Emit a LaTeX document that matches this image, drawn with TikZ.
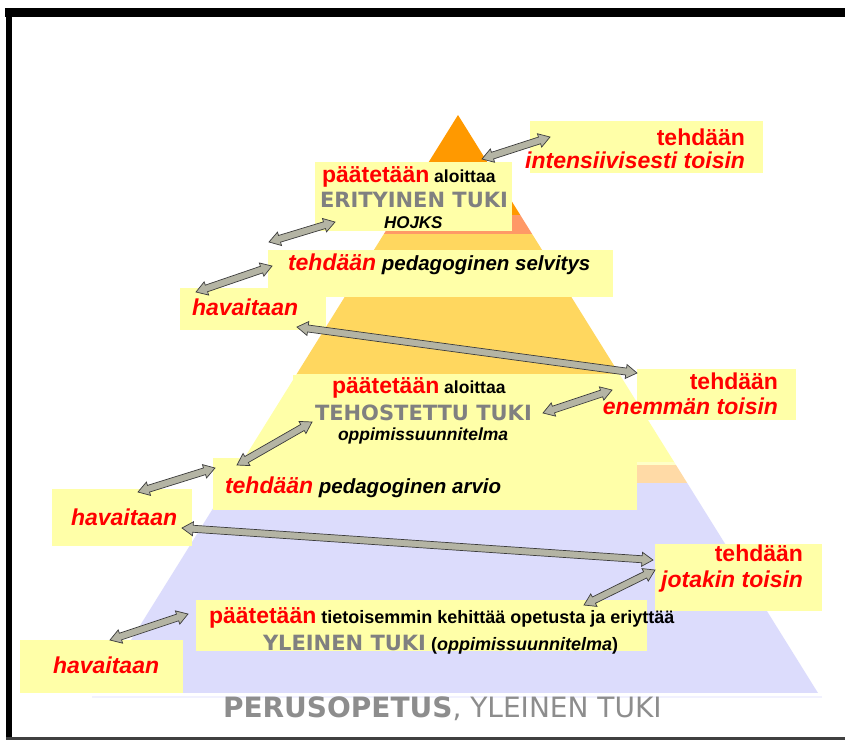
\documentclass[tikz,border=0pt]{standalone}
\usepackage{fontspec}
\setmainfont{Liberation Sans}
\newfontfamily\capsfont{DejaVu Sans}
\usetikzlibrary{calc}
\definecolor{boxyel}{HTML}{FFFFA8}
\definecolor{toporange}{HTML}{FF9900}
\definecolor{salmon}{HTML}{FF9966}
\definecolor{gold}{HTML}{FFD75F}
\definecolor{paleyel}{HTML}{FFFFC8}
\definecolor{peach}{HTML}{FFDAA6}
\definecolor{lavender}{HTML}{DCDCFC}
\definecolor{tukigray}{HTML}{808080}
\definecolor{arrowfill}{HTML}{B4B4A4}
\definecolor{arrowline}{HTML}{3C3C3C}
\definecolor{hotred}{HTML}{FF0000}

\newcommand\fs[1]{\fontsize{#1}{#1}\selectfont}

\tikzset{
  box/.style={fill=boxyel,inner sep=0pt,outer sep=0pt,anchor=north west},
  txt/.style={inner sep=0pt,outer sep=0pt,font=\bfseries},
  redtxt/.style={txt,text=hotred,font=\bfseries\fs{23}},
  redit/.style={txt,text=hotred,font=\bfseries\itshape\fs{23}},
  smalltxt/.style={txt,font=\bfseries\fs{17.5}},
  smallit/.style={txt,font=\bfseries\itshape\fs{17.5}},
  midit/.style={txt,font=\bfseries\itshape\fs{20.5}},
  tuki/.style={txt,text=tukigray,font=\capsfont\bfseries\fs{21}},
  arrowbody/.style={draw=arrowline,fill=arrowfill,line width=0.7pt,line join=miter}
}

% two-headed block arrow between two points
\newcommand\twoway[2]{%
  \coordinate (twA) at (#1);
  \coordinate (twB) at (#2);
  \draw[arrowbody] (twA)
    -- ($(twA)!11pt!(twB)!7pt!90:(twB)$)
    -- ($(twA)!11pt!(twB)!3.5pt!90:(twB)$)
    -- ($(twB)!11pt!(twA)!3.5pt!-90:(twA)$)
    -- ($(twB)!11pt!(twA)!7pt!-90:(twA)$)
    -- (twB)
    -- ($(twB)!11pt!(twA)!7pt!90:(twA)$)
    -- ($(twB)!11pt!(twA)!3.5pt!90:(twA)$)
    -- ($(twA)!11pt!(twB)!3.5pt!-90:(twB)$)
    -- ($(twA)!11pt!(twB)!7pt!-90:(twB)$)
    -- cycle;}

\begin{document}
\begin{tikzpicture}[x=1pt,y=-1pt]
  % canvas and frame
  \useasboundingbox (0,0) rectangle (845,740);
  \fill[white] (0,0) rectangle (845,740);
  \fill[black] (5,8) rectangle (845,17);
  \fill[black] (6,8) rectangle (12,740);
  \fill[black!75] (6,737) rectangle (845,740);

  % pyramid layers
  \begin{scope}
    \clip (458,115) -- (818,693) -- (98,693) -- cycle;
    \fill[toporange] (90,110) rectangle (830,215);
    \fill[salmon] (90,215) rectangle (830,234);
    \fill[gold] (90,234) rectangle (830,374);
    \fill[boxyel] (90,374) rectangle (830,462);
    \fill[paleyel] (90,462) rectangle (830,465);
    \fill[peach] (90,465) rectangle (830,483);
    \fill[lavender] (90,483) rectangle (830,693);
  \end{scope}
  \draw[lavender!40,line width=1.5pt] (92,697) -- (822,697);

  % yellow boxes
  \node[box,minimum width=233pt,minimum height=52pt] (b1) at (530,121) {};
  \node[box,minimum width=197pt,minimum height=69pt] (b2) at (315,162) {};
  \node[box,minimum width=146pt,minimum height=42pt] (b4) at (180,288) {};
  \node[box,minimum width=345pt,minimum height=47pt] (b3) at (268,250) {};
  \node[box,minimum width=267pt,minimum height=70pt] (b5) at (293,375) {};
  \node[box,minimum width=159pt,minimum height=51pt] (b6) at (637,369) {};
  \node[box,minimum width=424pt,minimum height=52pt] (b7) at (213,458) {};
  \node[box,minimum width=140pt,minimum height=57pt] (b8) at (52,489) {};
  \node[box,minimum width=167pt,minimum height=67pt] (b9) at (655,544) {};
  \node[box,minimum width=451pt,minimum height=51pt] (b10) at (196,600) {};
  \node[box,minimum width=163pt,minimum height=53pt] (b11) at (20,640) {};

  % erityinen tuki
  \node[redtxt,anchor=base east] (t1a) at (745,145) {tehdään};
  \node[redit,anchor=base east] (t1b) at (745,168) {intensiivisesti toisin};
  \node[smalltxt,anchor=base west] (t2a) at (322,182) {{\color{hotred}\fs{23}päätetään} aloittaa};
  \node[tuki,anchor=base west] (t2b) at (320,207) {ERITYINEN TUKI};
  \node[txt,font=\bfseries\itshape\fs{17},anchor=base west] (t2c) at (384,228) {HOJKS};
  \node[midit,anchor=base west] (t3) at (288,270) {{\color{hotred}\fs{23}tehdään} pedagoginen selvitys};
  \node[redit,anchor=base west] (t4) at (192,315) {havaitaan};

  % tehostettu tuki
  \node[smalltxt,anchor=base west] (t5a) at (332,393) {{\color{hotred}\fs{23}päätetään} aloittaa};
  \node[tuki,anchor=base west] (t5b) at (315,420) {TEHOSTETTU TUKI};
  \node[smallit,anchor=base west] (t5c) at (338,440) {oppimissuunnitelma};
  \node[redtxt,anchor=base east] (t6a) at (778,389) {tehdään};
  \node[redit,anchor=base east] (t6b) at (778,414) {enemmän toisin};
  \node[midit,anchor=base west] (t7) at (225,493) {{\color{hotred}\fs{23}tehdään} pedagoginen arvio};
  \node[redit,anchor=base west] (t8) at (71,525) {havaitaan};

  % yleinen tuki
  \node[redtxt,anchor=base east] (t9a) at (803,561) {tehdään};
  \node[redit,anchor=base east] (t9b) at (803,587) {jotakin toisin};
  \node[txt,font=\bfseries\fs{18},anchor=base west] (t10a) at (209,623) {{\color{hotred}\fs{23}päätetään} tietoisemmin kehittää opetusta ja eriyttää};
  \node[txt,font=\bfseries\fs{18},anchor=base west] (t10b) at (263,650) {{\color{tukigray}\capsfont\fs{21}YLEINEN TUKI} (\textit{oppimissuunnitelma})};
  \node[redit,anchor=base west] (t11) at (53,673) {havaitaan};
  \node[txt,text=tukigray!90,font=\capsfont\fs{28},anchor=base west] (base) at (223,717) {\textbf{PERUSOPETUS}, YLEINEN TUKI};

  % arrows
  \twoway{$(b2.north east)+(-30,-3)$}{$(b1.north west)+(20,16)$}
  \twoway{$(b3.north west)+(1,-8)$}{$(b2.south west)+(20,-9)$}
  \twoway{$(b4.north west)+(16,4)$}{$(b3.north west)+(4,16)$}
  \twoway{$(b4.south east)+(-29,-3)$}{$(b6.north west)+(0,4)$}
  \twoway{$(b5.east)+(-17,3)$}{$(b6.west)+(-25,-4.5)$}
  \twoway{$(b7.north west)+(24,7)$}{$(b5.west)+(19,12)$}
  \twoway{$(b8.north west)+(86,3)$}{$(b7.north west)+(2,10)$}
  \twoway{$(b8.east)+(-10,10.5)$}{$(b9.north west)+(-2,16)$}
  \twoway{$(b10.north east)+(-63,5)$}{$(b9.north west)+(0,26)$}
  \twoway{$(b11.north west)+(90,0)$}{$(b10.north west)+(-8,14)$}
\end{tikzpicture}
\end{document}
